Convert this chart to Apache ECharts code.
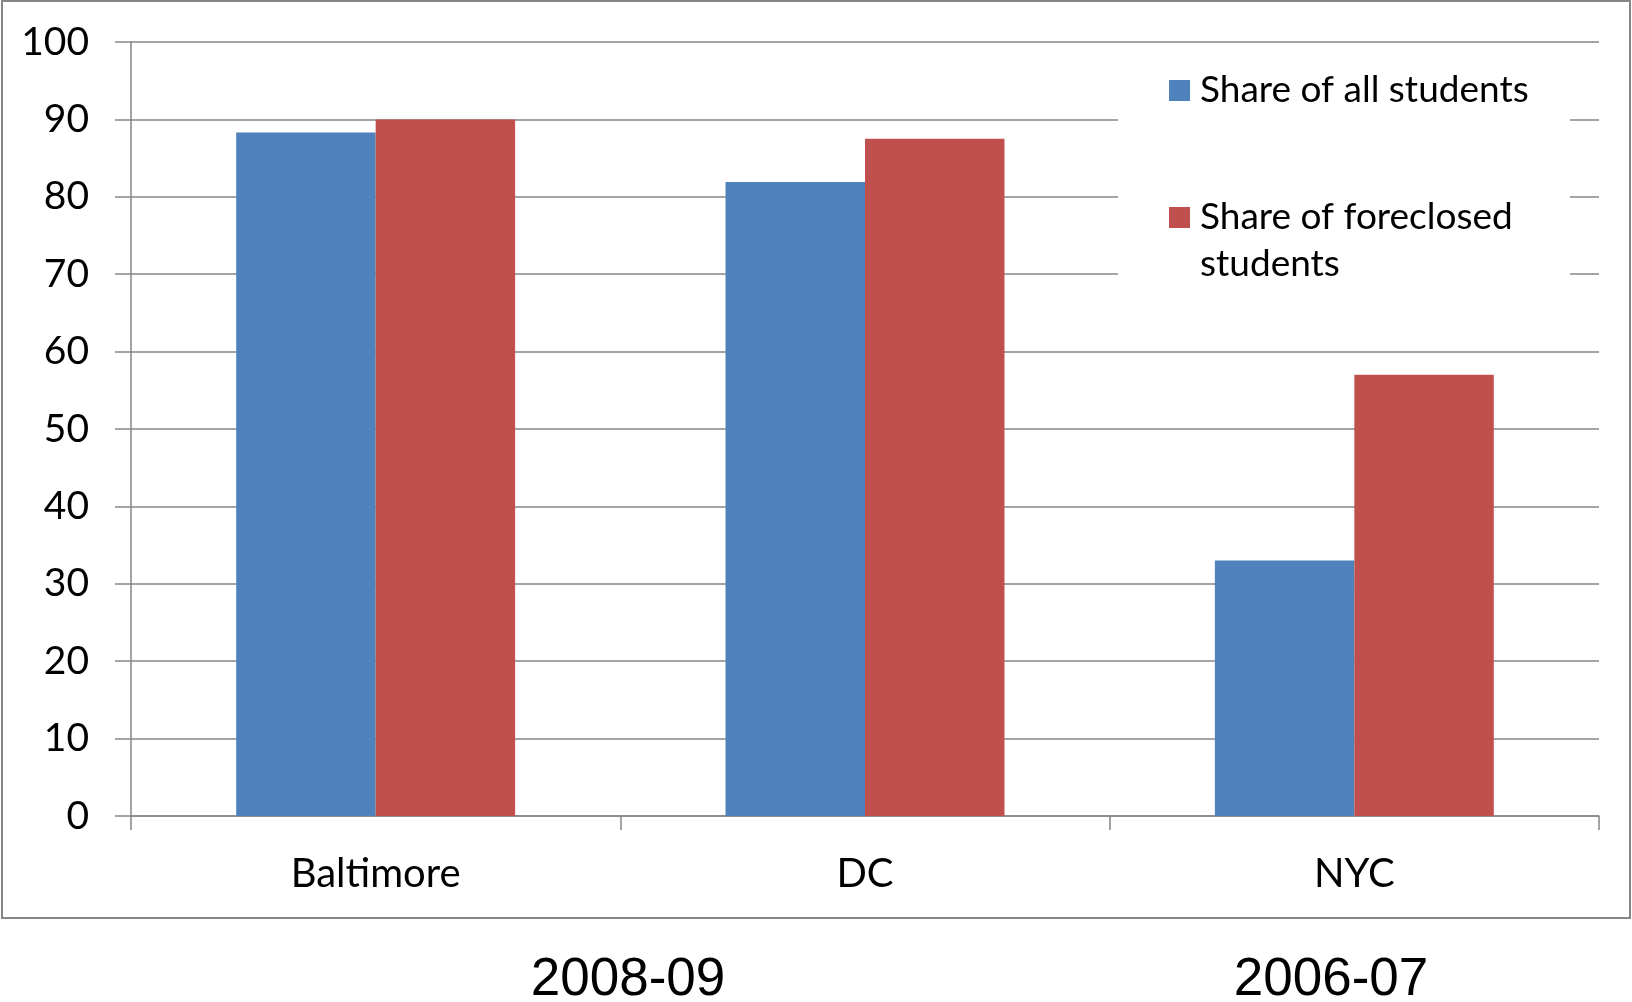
<!DOCTYPE html>
<html>
<head>
<meta charset="utf-8">
<script src="https://cdn.jsdelivr.net/npm/echarts@6/dist/echarts.min.js"></script>
<style>
html,body{margin:0;padding:0;background:#fff;}
#chart{width:1632px;height:1002px;}
</style>
</head>
<body>
<div id="chart"></div>
<script>
const categories = ['Baltimore', 'DC', 'NYC'];
const shareAll = [88.3, 81.9, 33];
const shareForeclosed = [90, 87.5, 57];
const yTicks = [0, 10, 20, 30, 40, 50, 60, 70, 80, 90, 100];
const periodLabels = ['2008-09', '2006-07'];
const seriesNames = ['Share of all students', 'Share of foreclosed students'];

const FONT = 'Lato';
const GRAY = '#868686';
const chart = echarts.init(document.getElementById('chart'), null, {renderer: 'canvas'});

const option = {
  backgroundColor: '#fff',
  animation: false,
  grid: {left: 131, right: 33, top: 42, bottom: 186},
  xAxis: {
    type: 'category',
    data: categories,
    boundaryGap: true,
    axisLine: {lineStyle: {color: GRAY, width: 1.5}},
    axisTick: {show: true, length: 14, lineStyle: {color: GRAY, width: 1.5}},
    axisLabel: {margin: 38, fontFamily: FONT, fontSize: 40, color: '#000'}
  },
  yAxis: {
    type: 'value',
    min: yTicks[0],
    max: yTicks[yTicks.length - 1],
    interval: 10,
    axisLine: {show: true, lineStyle: {color: GRAY, width: 1.5}},
    axisTick: {show: true, length: 16, lineStyle: {color: GRAY, width: 1.5}},
    splitLine: {show: true, lineStyle: {color: GRAY, width: 1.5}},
    axisLabel: {margin: 42, fontFamily: FONT, fontSize: 39, color: '#000'}
  },
  legend: [
    {
      orient: 'vertical', left: 1169, top: 67, padding: 0,
      itemWidth: 21, itemHeight: 21, icon: 'rect',
      data: [{name: seriesNames[0]}],
      textStyle: {fontFamily: FONT, fontSize: 37, color: '#000', lineHeight: 47, padding: [0, 0, 0, 5]}
    },
    {
      orient: 'vertical', left: 1169, top: 147, padding: 0,
      itemWidth: 21, itemHeight: 21, icon: 'rect',
      data: [{name: seriesNames[1]}],
      formatter: function (n) { return '\nShare of foreclosed\nstudents'; },
      textStyle: {fontFamily: FONT, fontSize: 37, color: '#000', lineHeight: 47, padding: [0, 0, 0, 5]}
    }
  ],
  graphic: [
    {type: 'rect', z: 1, shape: {x: 1118, y: 48, width: 452, height: 242}, style: {fill: '#fff'}},
    {type: 'rect', z: 0, shape: {x: 2, y: 1, width: 1628, height: 917}, style: {fill: 'none', stroke: GRAY, lineWidth: 2}},
    {type: 'text', z: 5, style: {text: periodLabels[0], x: 628, y: 980, align: 'center', verticalAlign: 'middle', fontFamily: 'Liberation Sans', fontSize: 53, fill: '#000'}},
    {type: 'text', z: 5, style: {text: periodLabels[1], x: 1331, y: 980, align: 'center', verticalAlign: 'middle', fontFamily: 'Liberation Sans', fontSize: 53, fill: '#000'}}
  ],
  series: [
    {name: seriesNames[0], type: 'bar', data: shareAll, barGap: '0%', barCategoryGap: '43%', itemStyle: {color: '#4F81BD'}},
    {name: seriesNames[1], type: 'bar', data: shareForeclosed, barGap: '0%', barCategoryGap: '43%', itemStyle: {color: '#C0504D'}}
  ]
};
chart.setOption(option);
</script>
</body>
</html>
